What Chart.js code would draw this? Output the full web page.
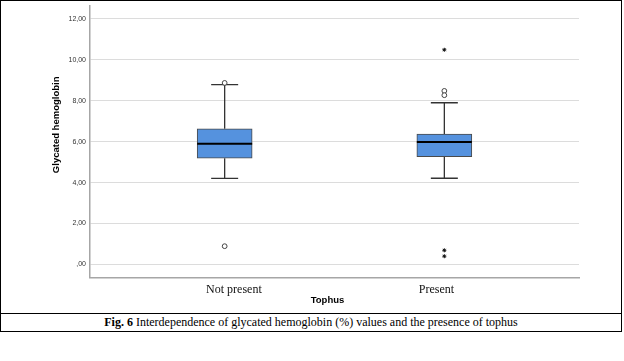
<!DOCTYPE html>
<html>
<head>
<meta charset="utf-8">
<script src="https://cdn.jsdelivr.net/npm/chart.js@4.4.0/dist/chart.umd.min.js"></script>
<style>
  html, body { margin: 0; padding: 0; background: #fff; }
  #frame { position: absolute; left: 0; top: 0; width: 620px; height: 312px; border: 1px solid #000; }
  #chartBox { position: absolute; left: 0; top: 0; width: 620px; height: 312px; }
  #caption {
    position: absolute; left: 0; top: 314px; width: 620px; height: 17px;
    border: 1px solid #000; border-top: none;
    font-family: "Liberation Serif", "Times New Roman", serif; font-size: 12px;
    line-height: 17px; text-align: center; color: #000;
  }
</style>
</head>
<body>
<div id="frame"><div id="chartBox"><canvas id="boxChart"></canvas></div></div>
<div id="caption"><b>Fig. 6</b> Interdependence of glycated hemoglobin (%) values and the presence of tophus</div>
<script>
// categories and box plot values
var groups = ['Not present', 'Present'];
var groupPos = [1, 2];
var q1 = [5.19, 5.27];
var medians = [5.90, 5.98];
var q3 = [6.63, 6.37];
var whiskerLow = [4.20, 4.21];
var whiskerHigh = [8.79, 7.90];
// outliers (circle) and extreme values (star)
var circleOutliers = [[8.87, 0.89], [8.48, 8.27]];
var starOutliers = [[], [10.49, 0.69, 0.40]];
var yTicks = [0, 2, 4, 6, 8, 10, 12];

// label offsets under each box
var labelShift = [0.042, -0.036];

function outlierPoints(list) {
  var pts = [];
  list.forEach(function (vals, i) {
    vals.forEach(function (v) { pts.push({ x: groupPos[i], y: v }); });
  });
  return pts;
}

function commaFmt(v) {
  return v === 0 ? ',00' : v.toFixed(2).replace('.', ',');
}

// whiskers and caps (under), medians (over)
var boxLines = {
  id: 'boxLines',
  beforeDatasetsDraw: function (chart) {
    var ctx = chart.ctx, x = chart.scales.x, y = chart.scales.y;
    ctx.save();
    ctx.strokeStyle = '#333';
    ctx.lineWidth = 1.3;
    for (var i = 0; i < groups.length; i++) {
      var cx = x.getPixelForValue(groupPos[i]);
      var hi = y.getPixelForValue(whiskerHigh[i]);
      var lo = y.getPixelForValue(whiskerLow[i]);
      ctx.beginPath();
      ctx.moveTo(cx, y.getPixelForValue(q3[i])); ctx.lineTo(cx, hi);
      ctx.moveTo(cx, y.getPixelForValue(q1[i])); ctx.lineTo(cx, lo);
      ctx.moveTo(cx - 13.5, hi); ctx.lineTo(cx + 13.5, hi);
      ctx.moveTo(cx - 13.5, lo); ctx.lineTo(cx + 13.5, lo);
      ctx.stroke();
    }
    ctx.restore();
  },
  afterDatasetsDraw: function (chart) {
    var ctx = chart.ctx, y = chart.scales.y;
    var bars = chart.getDatasetMeta(0).data;
    ctx.save();
    ctx.strokeStyle = '#000';
    ctx.lineWidth = 2;
    bars.forEach(function (bar, i) {
      var my = y.getPixelForValue(medians[i]);
      ctx.beginPath();
      ctx.moveTo(bar.x - bar.width / 2, my);
      ctx.lineTo(bar.x + bar.width / 2, my);
      ctx.stroke();
    });
    ctx.restore();
  }
};

// axis titles
var axisTitles = {
  id: 'axisTitles',
  afterDraw: function (chart) {
    var ctx = chart.ctx, a = chart.chartArea;
    ctx.save();
    ctx.fillStyle = '#000';
    ctx.font = 'bold 9.5px "Liberation Sans", Arial, sans-serif';
    ctx.textAlign = 'center';
    ctx.textBaseline = 'middle';
    ctx.fillText('Tophus', (a.left + a.right) / 2 - 7, a.bottom + 23);
    ctx.translate(a.left - 34, (a.top + a.bottom) / 2 - 17);
    ctx.rotate(-Math.PI / 2);
    ctx.fillText('Glycated hemoglobin', 0, 0);
    ctx.restore();
  }
};

var ctx = document.getElementById('boxChart').getContext('2d');
var boxChart = new Chart(ctx, {
  type: 'bar',
  data: {
    datasets: [{
      data: groups.map(function (g, i) { return { x: groupPos[i], y: [q1[i], q3[i]] }; }),
      backgroundColor: '#5592de',
      borderColor: '#4a4a4a',
      borderWidth: 1,
      borderSkipped: false,
      barThickness: 55
    }, {
      type: 'scatter',
      data: outlierPoints(circleOutliers),
      pointStyle: 'circle',
      pointRadius: 2.4,
      backgroundColor: '#fff',
      borderColor: '#444',
      borderWidth: 1
    }, {
      type: 'scatter',
      data: outlierPoints(starOutliers),
      pointStyle: 'star',
      pointRadius: 2,
      borderColor: '#111',
      borderWidth: 1
    }]
  },
  options: {
    responsive: true,
    maintainAspectRatio: false,
    animation: false,
    layout: { padding: { left: 0, right: 42, top: 3.7, bottom: 0 } },
    plugins: {
      legend: { display: false },
      tooltip: { enabled: false }
    },
    scales: {
      x: {
        type: 'linear',
        offset: false,
        min: 0.387,
        max: 2.613,
        grid: { display: false, drawTicks: false },
        border: { display: true, color: '#a6a6a6', width: 1.5 },
        afterBuildTicks: function (axis) {
          axis.ticks = groupPos.map(function (p, i) { return { value: p + labelShift[i] }; });
        },
        ticks: {
          autoSkip: false,
          maxRotation: 0,
          padding: 5,
          color: '#111',
          font: { family: '"Liberation Serif", "Times New Roman", serif', size: 12 },
          callback: function (v, idx) { return groups[idx]; }
        },
        afterFit: function (axis) {
          axis.height = 35.3;
          axis.paddingLeft = 0;
          axis.paddingRight = 0;
        }
      },
      y: {
        min: -0.65,
        max: 12.63,
        grid: { color: '#dcdcdc', lineWidth: 1, drawTicks: false },
        border: { display: true, color: '#a6a6a6', width: 1.5 },
        afterBuildTicks: function (axis) {
          axis.ticks = yTicks.map(function (v) { return { value: v }; });
        },
        ticks: {
          padding: 4,
          color: '#333',
          font: { family: '"Liberation Sans", Arial, sans-serif', size: 7 },
          callback: commaFmt
        },
        afterFit: function (axis) {
          axis.width = 89;
          axis.paddingTop = 0;
          axis.paddingBottom = 0;
        }
      }
    }
  },
  plugins: [boxLines, axisTitles]
});
</script>
</body>
</html>
